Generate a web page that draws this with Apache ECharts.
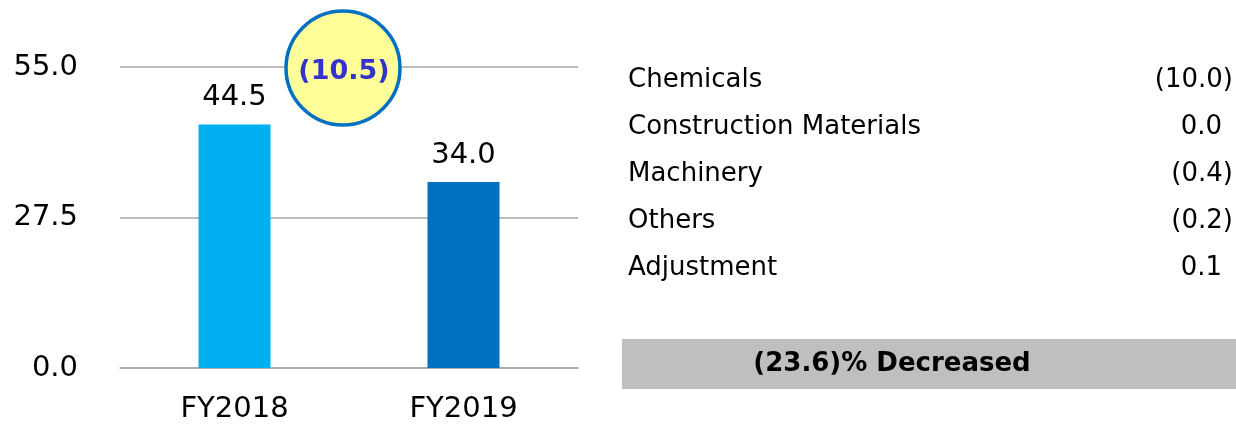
<!DOCTYPE html>
<html>
<head>
<meta charset="utf-8">
<script src="https://cdn.jsdelivr.net/npm/echarts@6/dist/echarts.min.js"></script>
<style>
  html, body { margin: 0; padding: 0; background: #fff; }
  #chart-container { width: 1236px; height: 424px; }
</style>
</head>
<body>
<div id="chart-container"></div>
<script>
var years = ['FY2018', 'FY2019'];
var profit = [44.5, 34.0];
var yTicks = [0, 27.5, 55];
var totalChange = -10.5;
var pctChange = -23.6;
var segments = ['Chemicals', 'Construction Materials', 'Machinery', 'Others', 'Adjustment'];
var segmentChanges = [-10.0, 0.0, -0.4, -0.2, 0.1];

var FONT = '"DejaVu Sans", Verdana, sans-serif';

function fmt(v) {
  return v < 0 ? '(' + Math.abs(v).toFixed(1) + ')' : v.toFixed(1);
}

var dom = document.getElementById('chart-container');
var myChart = echarts.init(dom, null, { renderer: 'canvas' });

var graphics = [];
// tabla de segmentos
segments.forEach(function (name, i) {
  var y = 80 + i * 47;
  graphics.push({
    type: 'text', x: 628, y: y,
    style: { text: name, font: '26px ' + FONT, fill: '#000', verticalAlign: 'middle' }
  });
  var v = segmentChanges[i];
  graphics.push({
    type: 'text', x: v < 0 ? 1233 : 1222, y: y,
    style: { text: fmt(v), font: '26px ' + FONT, fill: '#000', align: 'right', verticalAlign: 'middle' }
  });
});
// banda gris
graphics.push({
  type: 'rect', shape: { x: 622, y: 339, width: 614, height: 50 },
  style: { fill: '#BFBFBF' }
});
graphics.push({
  type: 'text', x: 892, y: 364,
  style: { text: fmt(pctChange) + '% Decreased', font: 'bold 26px ' + FONT, fill: '#000', align: 'center', verticalAlign: 'middle' }
});
// círculo de variación
graphics.push({
  type: 'circle', shape: { cx: 343, cy: 68, r: 57 },
  style: { fill: '#FFFF99', stroke: '#0070C0', lineWidth: 3.5 }, z: 10
});
graphics.push({
  type: 'text', x: 344, y: 72,
  style: { text: fmt(totalChange), font: 'bold 27px ' + FONT, fill: '#3333CC', align: 'center', verticalAlign: 'middle' }, z: 11
});

var option = {
  animation: false,
  grid: { left: 120, right: 658, top: 67, bottom: 56, outerBoundsMode: 'none', containLabel: false },
  xAxis: {
    type: 'category',
    data: years,
    axisLine: { lineStyle: { color: '#A6A6A6', width: 1.5 } },
    axisTick: { show: false },
    axisLabel: { fontFamily: FONT, fontSize: 29, color: '#000', margin: 27 }
  },
  yAxis: {
    type: 'value',
    min: 0,
    max: 55,
    interval: 27.5,
    axisLine: { show: false },
    axisTick: { show: false },
    splitLine: { lineStyle: { color: '#A6A6A6', width: 1.5 } },
    axisLabel: {
      fontFamily: FONT, fontSize: 29, color: '#000', margin: 42,
      formatter: function (v) { return v.toFixed(1); }
    }
  },
  series: [{
    type: 'bar',
    data: profit.map(function (v, i) {
      return { value: v, itemStyle: { color: i === 0 ? '#00B0F0' : '#0070C0' } };
    }),
    barWidth: 72,
    label: {
      show: true, position: 'top', distance: 12,
      fontFamily: FONT, fontSize: 29, color: '#000',
      formatter: function (p) { return p.value.toFixed(1); }
    }
  }],
  graphic: graphics
};

myChart.setOption(option);
window.addEventListener('resize', myChart.resize);
</script>
</body>
</html>
